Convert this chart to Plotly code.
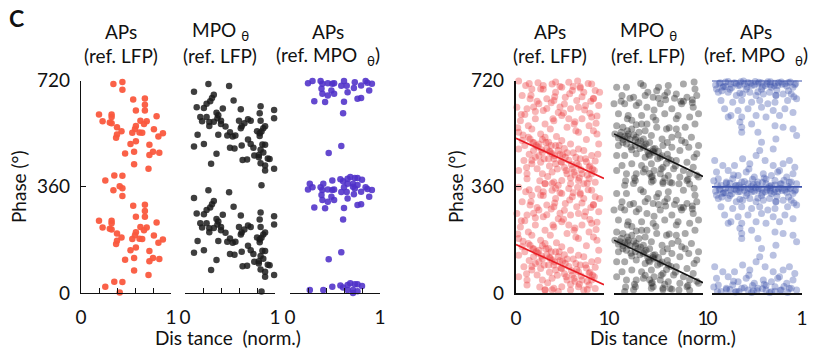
import plotly.graph_objects as go

# ---------------- data ----------------
# Left group: single-cell examples. Phases stored once (0-360) and plotted twice (+360).
aps_lfp_x = [0.43,0.46,0.36,0.46,0.58,0.71,0.71,0.71,0.61,0.20,0.34,0.34,0.84,0.24,0.32,0.34,0.66,0.73,0.70,0.40,
             0.61,0.60,0.81,0.45,0.57,0.65,0.68,0.40,0.39,0.91,0.86,0.61,0.55,0.76,0.49,0.59,0.80,0.76,0.87,0.59,
             0.75,0.37,0.46,0.27]
aps_lfp_phase = [2,355,348,329,296,299,278,258,258,245,245,236,239,222,218,215,224,222,213,202,
                 206,196,195,188,183,184,183,177,166,181,170,154,145,142,113,119,119,108,115,76,
                 61,38,37,21]

mpo_lfp_x = [0.85,0.26,0.49,0.10,0.32,0.30,0.54,0.28,0.24,0.13,0.21,0.42,0.62,0.84,0.99,0.35,0.37,0.17,0.24,0.83,
             0.36,0.19,0.27,0.32,0.27,0.40,0.40,0.45,0.60,0.70,0.73,0.66,0.63,0.62,0.84,0.99,0.89,0.87,0.80,0.83,
             0.85,0.83,0.50,0.53,0.47,0.37,0.56,0.14,0.70,0.73,0.76,0.63,0.86,0.89,0.21,0.10,0.50,0.55,0.84,0.87,
             0.82,0.77,0.82,0.92,0.94,0.35,0.64,0.69,0.29,0.84,0.89,0.99,0.89]
mpo_lfp_phase = [5,348,341,322,312,301,292,290,281,269,267,265,263,273,260,251,242,236,236,249,
                 232,222,219,220,206,224,213,204,224,229,224,215,205,198,224,232,205,198,188,181,
                 187,172,185,170,174,176,174,176,160,145,132,140,143,142,145,136,132,130,125,116,
                 108,106,100,96,94,112,91,92,78,80,72,61,55]

aps_mpo_x = [0.20,0.25,0.34,0.36,0.42,0.47,0.49,0.57,0.60,0.63,0.70,0.72,0.71,0.79,0.84,0.86,0.91,0.35,0.46,0.64,
             0.36,0.42,0.49,0.79,0.75,0.88,0.27,0.39,0.60,0.59,0.57,0.43,
             0.22,0.37,0.47,0.56,0.59,0.64,0.67,0.72,0.75,0.80,0.70,0.64,0.75]
aps_mpo_phase = [351,358,358,349,351,349,351,342,358,342,0,354,335,343,358,352,349,332,326,320,
                 315,309,315,301,298,326,290,287,288,249,138,114,
                 10,10,21,25,19,27,33,30,30,24,10,10,6]

# Right group: population data.
pop_aps_lfp_x = [0.33,0.41,0.48,0.31,0.41,0.52,0.60,0.73,0.86,0.81,0.18,0.28,0.45,0.64,0.77,0.90,0.03,0.11,
                 0.07,0.16,0.26,0.35,0.43,0.56,0.69,0.79,0.88,0.01,0.125,0.31,0.48,0.62,0.71,0.84,0.94,
                 0.05,0.14,0.22,0.33,0.43,0.52,0.66,0.75,0.86,0.92,0.03,0.18,0.28,0.39,0.58,0.71,0.83,
                 0.07,0.16,0.26,0.33,0.37,0.45,0.52,0.62,0.71,0.77,0.86,0.03,0.20,0.30,0.41,0.48,0.56,0.94,
                 0.09,0.18,0.28,0.37,0.45,0.52,0.64,0.71,0.83,0.90,0.03,0.125,0.24,0.30,0.41,0.58,0.75,0.86,
                 0.33,0.43,0.52,0.125,0.71,0.83,0.62,0.77,
                 0.20,0.25,0.30,0.35,0.40,0.44,0.50,0.55,0.60,0.65,0.68,0.73,0.80,0.15,0.10,0.22,0.38,0.47,
                 0.55,0.62,0.67,0.36,0.27,0.90,0.80,0.88,0.60,0.50,0.40,0.20,0.10,0.65,0.55,0.75,0.92,0.85,
                 0.45,0.25,0.70,0.15,
                 0.08,0.14,0.19,0.23,0.29,0.34,0.39,0.43,0.49,0.53,0.58,0.63,0.69,0.74,0.79,0.84,0.89,0.93,
                 0.12,0.18,0.26,0.32,0.38,0.46,0.51,0.57,0.66,0.72,0.81,0.87,0.06,0.22,0.35,0.42,0.54,0.67,
                 0.78,0.91,0.17,0.31,0.44,0.61,0.73,0.88,0.02,0.24,0.50,0.68,0.82,0.95]
pop_aps_lfp_phase = [11,11,5,343,348,337,354,339,348,12,331,331,320,326,320,326,358,343,
                     309,298,281,298,292,303,292,275,298,269,264,258,252,264,269,249,275,
                     224,207,230,213,224,241,213,230,236,179,185,196,179,196,202,185,207,
                     157,162,145,168,151,140,157,145,128,123,106,128,123,117,112,123,100,145,
                     89,78,83,95,78,83,61,72,66,87,55,44,61,44,50,44,44,44,
                     10,16,21,27,21,27,10,10,
                     150,135,160,130,140,105,110,130,90,115,100,95,85,110,140,100,70,60,
                     65,30,40,35,20,15,160,190,230,270,285,270,245,340,280,305,240,290,
                     355,352,358,350,
                     175,168,150,140,125,150,118,95,140,108,115,75,80,58,95,70,55,110,
                     65,90,105,95,120,170,85,55,50,30,40,60,245,255,265,230,250,220,
                     260,215,310,330,305,315,335,300,200,290,340,190,350,320]

pop_mpo_lfp_x = [0.12,0.22,0.42,0.55,0.65,0.85,0.03,0.14,0.33,0.50,0.61,0.78,0.91,0.09,0.22,0.35,0.44,0.57,0.70,
                 0.82,0.93,0.0,0.12,0.25,0.37,0.52,0.65,0.76,0.89,0.05,0.16,0.31,0.44,0.57,0.72,0.85,0.95,
                 0.03,0.10,0.20,0.31,0.37,0.48,0.59,0.70,0.80,0.91,0.01,0.07,0.16,0.25,0.33,0.42,0.54,0.65,
                 0.76,0.87,0.95,0.05,0.14,0.24,0.33,0.44,0.55,0.65,0.74,0.84,0.93,0.03,0.12,0.25,0.35,0.40,
                 0.52,0.61,0.70,0.82,0.09,0.20,0.31,0.42,0.55,0.67,0.78,0.89,0.03,0.14,0.25,0.33,0.42,0.52,
                 0.61,0.74,0.85,0.95,0.44,0.55,0.24,0.82,
                 0.08,0.12,0.18,0.22,0.27,0.30,0.36,0.40,0.46,0.50,0.15,0.28,0.38,0.45,0.60,0.10,0.20,0.35,
                 0.40,0.45,0.60,0.70,0.75,0.88,0.60,0.30,0.90,0.50,0.20,0.45,
                 0.05,0.10,0.15,0.19,0.24,0.29,0.34,0.39,0.44,0.49,0.54,0.59,0.64,0.69,
                 0.08,0.18,0.28,0.38,0.48,0.58,0.68,0.78,0.88,0.13,0.23,0.43,0.63,0.73,0.83,0.93,
                 0.47,0.53,0.57,0.62,0.72,0.80,0.90,0.35,0.25,0.15]
pop_mpo_lfp_phase = [5,11,16,11,13,9,337,337,343,337,343,348,331,309,303,309,303,309,314,
                     303,309,281,281,275,269,281,264,281,269,247,241,241,236,247,241,236,247,
                     207,202,196,213,213,202,196,196,202,213,179,174,179,168,162,174,162,168,
                     157,168,140,140,145,140,134,128,140,134,123,134,112,106,106,112,100,106,
                     100,95,89,83,72,78,72,78,66,61,55,66,55,44,44,50,33,44,
                     38,33,44,33,21,16,21,21,
                     185,170,160,175,150,155,145,150,130,120,190,185,120,115,110,160,125,60,
                     45,55,150,230,290,295,320,350,355,300,225,260,
                     165,150,170,135,160,130,140,110,120,95,105,80,90,70,
                     290,300,285,320,325,295,300,290,285,20,30,35,15,10,25,40,
                     225,60,30,200,175,150,100,190,210,230]

pop_aps_mpo_x = [0.05,0.12,0.21,0.29,0.36,0.44,0.51,0.59,0.66,0.73,0.81,0.90,0.07,0.18,0.27,0.34,0.42,0.49,0.57,
                 0.64,0.71,0.79,0.88,0.10,0.23,0.33,0.44,0.53,0.62,0.70,0.84,0.94,0.14,0.29,0.40,0.55,0.68,
                 0.81,0.21,0.33,0.49,0.60,0.75,0.90,0.31,0.33,0.33,0.44,0.51,0.18,0.70,0.79,0.90,0.71,0.68,
                 0.55,0.53,0.94,
                 0.49,0.34,0.42,0.03,0.12,0.25,0.59,0.68,0.79,0.86,0.92,0.05,0.18,0.29,0.38,0.47,0.57,0.66,
                 0.73,0.83,0.90,0.07,0.16,0.23,0.33,0.40,0.51,0.60,0.70,0.77,0.88,0.94,0.10,0.27,0.44,0.64,0.84,
                 0.08,0.15,0.25,0.32,0.40,0.48,0.55,0.62,0.70,0.77,0.85,0.93,0.20,0.38,0.55,0.72,0.30,0.50,
                 0.70,0.20,0.60,0.80,0.45,0.15,0.65,0.85,
                 0.04,0.09,0.13,0.18,0.22,0.27,0.31,0.35,0.39,0.43,0.47,0.52,0.56,0.61,0.65,0.69,0.74,0.78,
                 0.83,0.87,0.92,0.06,0.16,0.26,0.36,0.46,0.56,0.66,0.76,0.86,0.11,0.31,0.51,0.71,0.91,
                 0.24,0.41,0.58,0.75,0.02]
pop_aps_mpo_phase = [331,337,348,343,348,343,348,343,337,343,348,337,320,320,309,314,320,309,314,
                     320,309,314,314,292,286,292,286,292,281,286,292,298,264,258,264,269,258,
                     264,241,236,241,236,241,252,219,202,185,213,185,236,207,202,196,162,128,
                     151,123,174,
                     106,95,78,89,72,72,89,72,78,89,66,50,55,38,50,33,44,38,
                     50,33,44,27,16,27,16,10,16,10,21,10,16,10,5,5,2,2,2,
                     350,355,352,356,353,357,352,356,351,355,353,350,330,330,330,328,5,8,
                     6,12,25,22,25,340,345,325,
                     345,352,340,357,336,350,344,358,339,351,345,354,338,349,356,342,353,347,
                     341,355,346,5,12,3,18,8,14,4,9,15,325,318,322,310,305,
                     40,60,30,55,20]

# fitted circular-linear regressions (intercept deg, slope deg per unit distance)
fit_aps_lfp = [164, -136]
fit_mpo_lfp = [179, -144]
fit_aps_mpo = [359.5, 0]
fit_x = [0, 1]

panel_titles = [("APs", "(ref. LFP)"), ("MPO <sub>θ</sub>", "(ref. LFP)"), ("APs", "(ref. MPO  <sub>θ</sub>)")]
y_ticks = [0, 360, 720]
x_ticks = [0, 1]

# ---------------- layout helpers ----------------
W, H = 814, 356
FONT = "Lato"
panels_px = [(81, 171), (185, 275), (290, 380), (516, 604), (614, 703), (712, 802)]
y_bottom_px, y_top_px = 293, 80.5
ydom = [(H - y_bottom_px) / H, (H - y_top_px) / H]

fig = go.Figure()


def ax(i, kind):
    return kind if i == 1 else f"{kind}{i}"


def add_points(i, xs, ps, color, size, opacity):
    fig.add_trace(go.Scatter(
        x=list(xs) + list(xs), y=list(ps) + [p + 360 for p in ps],
        mode="markers", xaxis=ax(i, "x"), yaxis=ax(i, "y"),
        marker=dict(color=color, size=size, opacity=opacity, line=dict(width=0)),
        cliponaxis=False, showlegend=False, hoverinfo="skip"))


def add_fit(i, fit, color):
    b, m = fit
    for off in (0, 360):
        fig.add_trace(go.Scatter(
            x=fit_x, y=[b + m * xv + off for xv in fit_x], mode="lines",
            xaxis=ax(i, "x"), yaxis=ax(i, "y"), line=dict(color=color, width=1.6),
            cliponaxis=False, showlegend=False, hoverinfo="skip"))


add_points(1, aps_lfp_x, aps_lfp_phase, "rgb(250,88,62)", 6.5, 0.95)
add_points(2, mpo_lfp_x, mpo_lfp_phase, "rgb(28,28,28)", 6.5, 0.85)
add_points(3, aps_mpo_x, aps_mpo_phase, "rgb(78,48,200)", 6.5, 0.88)

add_points(4, pop_aps_lfp_x, pop_aps_lfp_phase, "rgb(235,45,50)", 7, 0.35)
add_points(5, pop_mpo_lfp_x, pop_mpo_lfp_phase, "rgb(40,40,40)", 7, 0.40)
add_points(6, pop_aps_mpo_x, pop_aps_mpo_phase, "rgb(55,78,168)", 7, 0.35)

add_fit(4, fit_aps_lfp, "rgb(232,28,36)")
add_fit(5, fit_mpo_lfp, "rgb(20,20,20)")
add_fit(6, fit_aps_mpo, "rgb(60,82,172)")

tickfont = dict(family=FONT, size=19, color="#111")
layout = {}
for i, (x0, x1) in enumerate(panels_px, start=1):
    left_group = i <= 3
    xkey = "xaxis" if i == 1 else f"xaxis{i}"
    ykey = "yaxis" if i == 1 else f"yaxis{i}"
    xa = dict(
        domain=[x0 / W, x1 / W], range=[0, 1], anchor=ax(i, "y"), automargin=False,
        showline=True, linecolor="#111", linewidth=1.2 if left_group else 2.2,
        ticks="inside", ticklen=5 if left_group else 4, tickwidth=1.2, tickcolor="#111",
        tickvals=x_ticks, ticktext=[str(v) for v in x_ticks], tickfont=tickfont,
        ticklabelstandoff=7, showgrid=False, zeroline=False, fixedrange=True)
    if left_group:
        xa["minor"] = dict(ticks="inside", tick0=0, dtick=0.2, ticklen=5,
                           tickwidth=1.2, tickcolor="#111", showgrid=False)
    layout[xkey] = xa
    show_y = i in (1, 4)
    layout[ykey] = dict(
        domain=ydom, range=[0, 720], anchor=ax(i, "x"), automargin=False,
        visible=show_y, showline=show_y, linecolor="#111",
        linewidth=1.2 if i == 1 else 2.2,
        ticks="inside", ticklen=5, tickwidth=1.2, tickcolor="#111",
        tickvals=y_ticks, ticktext=[str(v) for v in y_ticks], tickfont=tickfont,
        ticklabelstandoff=6, showgrid=False, zeroline=False, fixedrange=True)

ann = []


def add_text(px, py, text, size=19, **kw):
    ann.append(dict(x=px / W, y=1 - py / H, xref="paper", yref="paper", text=text,
                    showarrow=False, font=dict(family=FONT, size=size, color="#111"),
                    xanchor=kw.get("xanchor", "center"), yanchor=kw.get("yanchor", "middle"),
                    textangle=kw.get("textangle", 0)))


title_centers = [(121, 220, 328), (550, 648, 756)]
for centers in title_centers:
    for cx, (l1, l2) in zip(centers, panel_titles):
        add_text(cx, 31, l1)
        add_text(cx, 56, l2)

add_text(16, 18, "<b>C</b>", size=23)
add_text(18, 187, "Phase (°)", textangle=-90)
add_text(455, 187, "Phase (°)", textangle=-90)
add_text(228, 337, "Dis tance  (norm.)")
add_text(663, 337, "Dis tance  (norm.)")

fig.update_layout(
    width=W, height=H, margin=dict(l=0, r=0, t=0, b=0),
    paper_bgcolor="white", plot_bgcolor="white",
    annotations=ann, showlegend=False, **layout)

fig.write_html(
    "out.html",
    config={"displayModeBar": False},
    post_script="document.body.style.margin='0px';document.body.style.overflow='hidden';",
)
